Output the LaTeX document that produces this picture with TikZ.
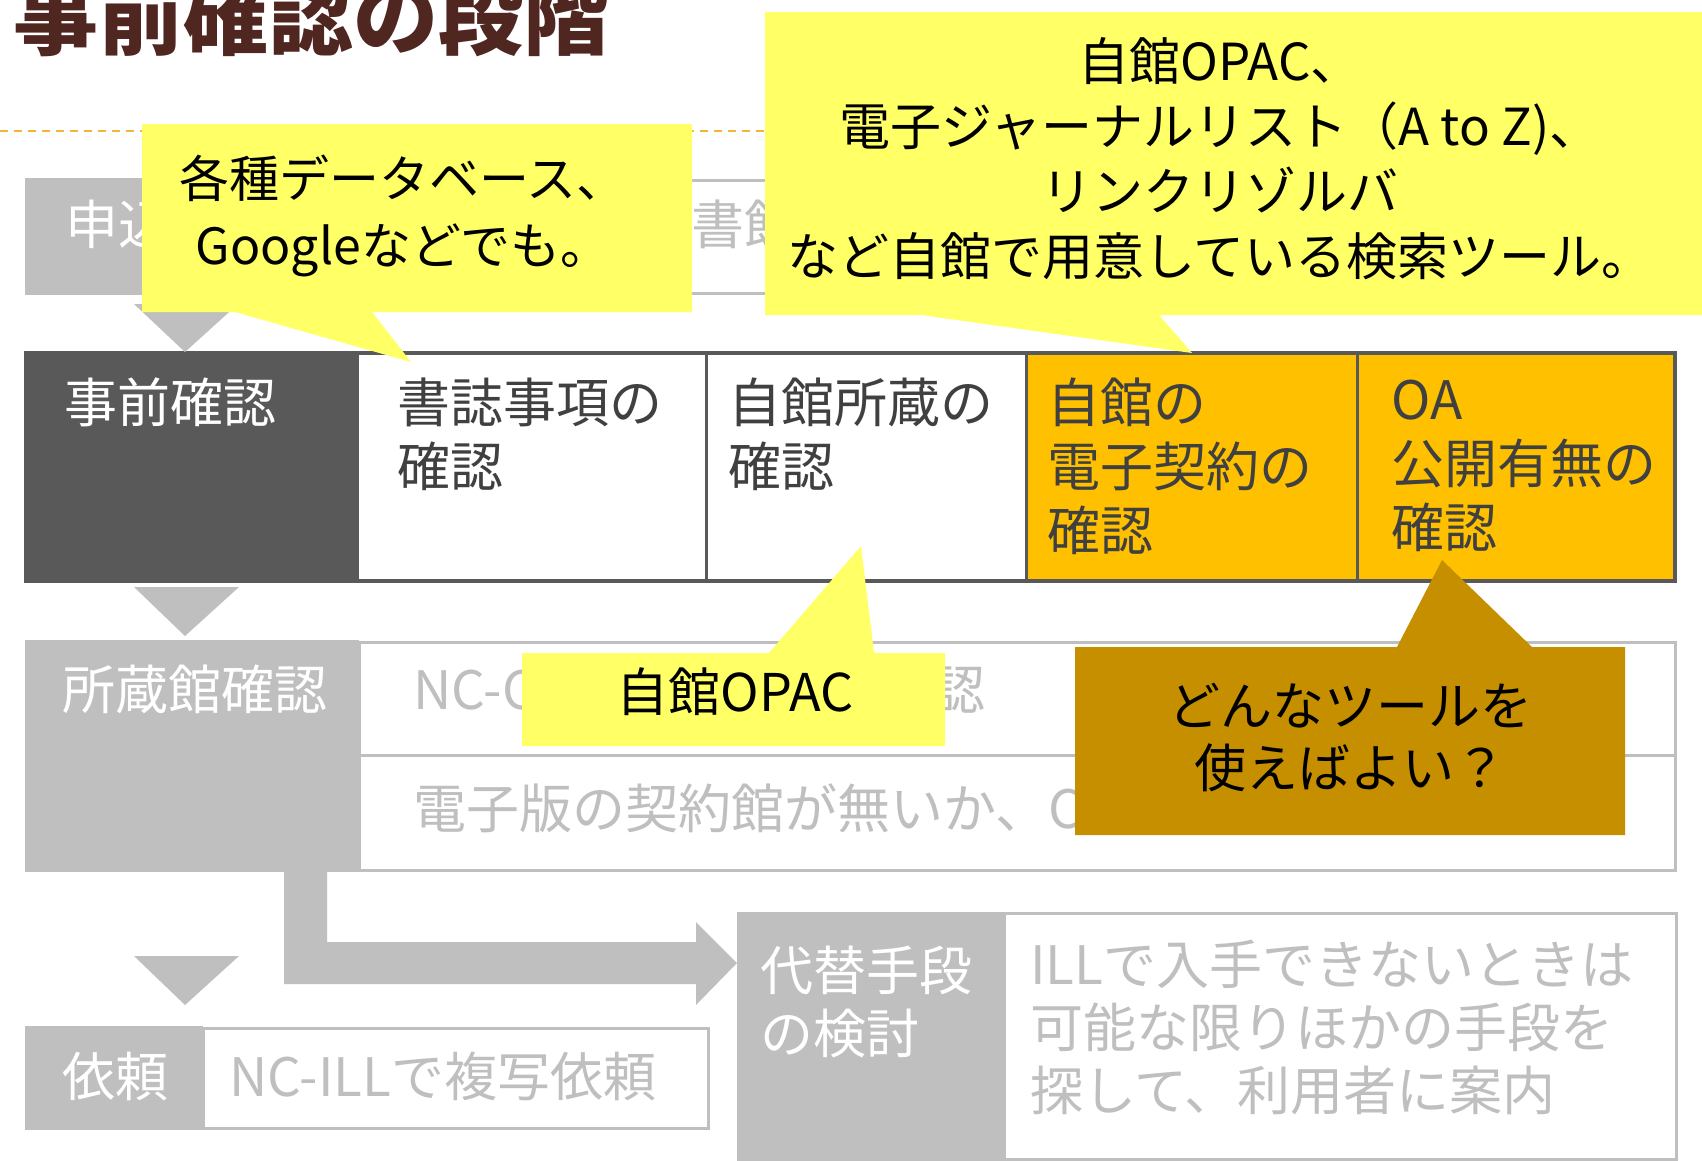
\documentclass[tikz,border=0pt]{standalone}
\usepackage{fontspec}
\setmainfont{Noto Sans CJK JP}
\usetikzlibrary{calc}
\definecolor{boxgray}{HTML}{BFBFBF}
\definecolor{txtgray}{HTML}{BFBFBF}
\definecolor{darklab}{HTML}{595959}
\definecolor{txtdark}{HTML}{404040}
\definecolor{cellorange}{HTML}{FFC000}
\definecolor{cyellow}{HTML}{FFFF66}
\definecolor{cgold}{HTML}{C58F00}
\definecolor{titlebrown}{HTML}{502620}
\definecolor{dashorange}{HTML}{F7B538}
\tikzset{
  rowtxt/.style={font=\fontsize{53}{64}\selectfont, inner sep=0pt, anchor=north west, align=left},
  labeltxt/.style={rowtxt, text=white},
  graytxt/.style={rowtxt, text=txtgray},
  darktxt/.style={rowtxt, text=txtdark},
  callouttxt/.style={inner sep=0pt, anchor=north, align=center, text=black},
  grayframe/.style={draw=boxgray, line width=3pt, fill=white},
  darkframe/.style={draw=darklab, line width=4pt},
  divider/.style={draw=darklab, line width=3pt},
  tri/.style={fill=boxgray},
}
\begin{document}
\begin{tikzpicture}[x=1pt,y=-1pt]
\useasboundingbox (0,0) rectangle (1702,1160);
\fill[white] (0,0) rectangle (1702,1160);

% title and dashed rule
\node[font=\fontsize{85}{85}\selectfont\bfseries, text=titlebrown, anchor=base west, inner sep=0pt] (title) at (13,48) {事前確認の段階};
\draw[dashorange, line width=2pt, dash pattern=on 8pt off 6pt] (0,131) -- (1702,131);

% row 1
\fill[boxgray] (25,178) rectangle (359,295);
\path[grayframe] (359,180) rectangle (1675,293);
\node[labeltxt, anchor=west] (r1l) at (65,224) {申込};
\node[graytxt, anchor=west] (r1t) at (691,224) {書館};

% row 2
\fill[darklab] (26,353) rectangle (359,581);
\fill[white] (359,353) rectangle (1026,581);
\fill[cellorange] (1026,353) rectangle (1675,581);
\path[divider] (706,353) -- (706,581) (1026,353) -- (1026,581) (1357,353) -- (1357,581);
\path[darkframe] (26,353) rectangle (1675,581);
\node[labeltxt] (pre) at (64,378) {事前確認};
\node[darktxt] (c1) at (397,378) {書誌事項の\\確認};
\node[darktxt] (c2) at (728,378) {自館所蔵の\\確認};
\node[darktxt] (c3) at (1047,378) {自館の\\電子契約の\\確認};
\node[darktxt] (c4) at (1391,380) {OA\\公開有無の\\確認};

% row 3
\fill[boxgray] (25,640) rectangle (359,872);
\path[grayframe] (359,642) rectangle (1675,755);
\path[grayframe] (359,755) rectangle (1675,870);
\node[labeltxt, anchor=west] (r3l) at (62,689) {所蔵館確認};
\node[graytxt, anchor=west] (r3a) at (413,690) {NC-C};
\node[graytxt, anchor=west] (r3b) at (932,690) {認};
\node[graytxt, anchor=west] (r3c) at (413,808) {電子版の契約館が無いか、C};

% row 4
\fill[boxgray] (25,1026) rectangle (203,1130);
\path[grayframe] (203,1028) rectangle (708,1128);
\node[labeltxt, anchor=west] (r4l) at (62,1076) {依頼};
\node[graytxt, anchor=west] (r4t) at (229,1076) {NC-ILLで複写依頼};

% row 5
\fill[boxgray] (737,912) rectangle (1004,1165);
\path[grayframe] (1004,913) rectangle (1676,1159);
\node[labeltxt, font=\fontsize{53}{63}\selectfont] (r5l) at (760,946) {代替手段\\の検討};
\node[graytxt, font=\fontsize{53}{63}\selectfont] (r5t) at (1030,940) {ILLで入手できないときは\\可能な限りほかの手段を\\探して、利用者に案内};

% flow triangles
\path[tri] (134,304) -- (238,304) -- (185,352) -- cycle;
\path[tri] (134,587) -- (239,587) -- (185,636) -- cycle;
\path[tri] (134,956) -- (239,956) -- (185,1005) -- cycle;

% elbow block arrow from row 3 to row 5
\coordinate (elbowstart) at (284,872);
\coordinate (elbowtip) at (737,963);
\fill[boxgray] (elbowstart) -- (327,872) -- (327,942) -- (696,942) -- (696,922) -- (elbowtip) -- (696,1005) -- (696,984) -- (284,984) -- cycle;

% callout 1
\fill[cyellow] (142,124) -- (692,124) -- (692,312) -- (372,312) -- (411,362) -- (235,312) -- (142,312) -- cycle;
\node[callouttxt, font=\fontsize{50}{67}\selectfont] (co1) at (403,155) {各種データベース、\\Googleなどでも。};

% callout 2
\fill[cyellow] (765,12) -- (1702,12) -- (1702,315) -- (1159,315) -- (1192,353) -- (921,315) -- (765,315) -- cycle;
\node[callouttxt, font=\fontsize{51}{65}\selectfont] (co2) at (1220,37) {自館OPAC、\\電子ジャーナルリスト（A to Z)、\\リンクリゾルバ\\など自館で用意している検索ツール。};

% callout 3
\fill[cyellow] (522,653) -- (769,653) -- (861,546) -- (874,653) -- (945,653) -- (945,746) -- (522,746) -- cycle;
\node[inner sep=0pt, font=\fontsize{52}{64}\selectfont] (co3) at (735,692) {自館OPAC};

% callout 4
\fill[cgold] (1075,647) -- (1397,647) -- (1442,560) -- (1532,647) -- (1625,647) -- (1625,835) -- (1075,835) -- cycle;
\node[callouttxt, font=\fontsize{52}{62}\selectfont] (co4) at (1350,683) {どんなツールを\\使えばよい？};
\end{tikzpicture}
\end{document}
